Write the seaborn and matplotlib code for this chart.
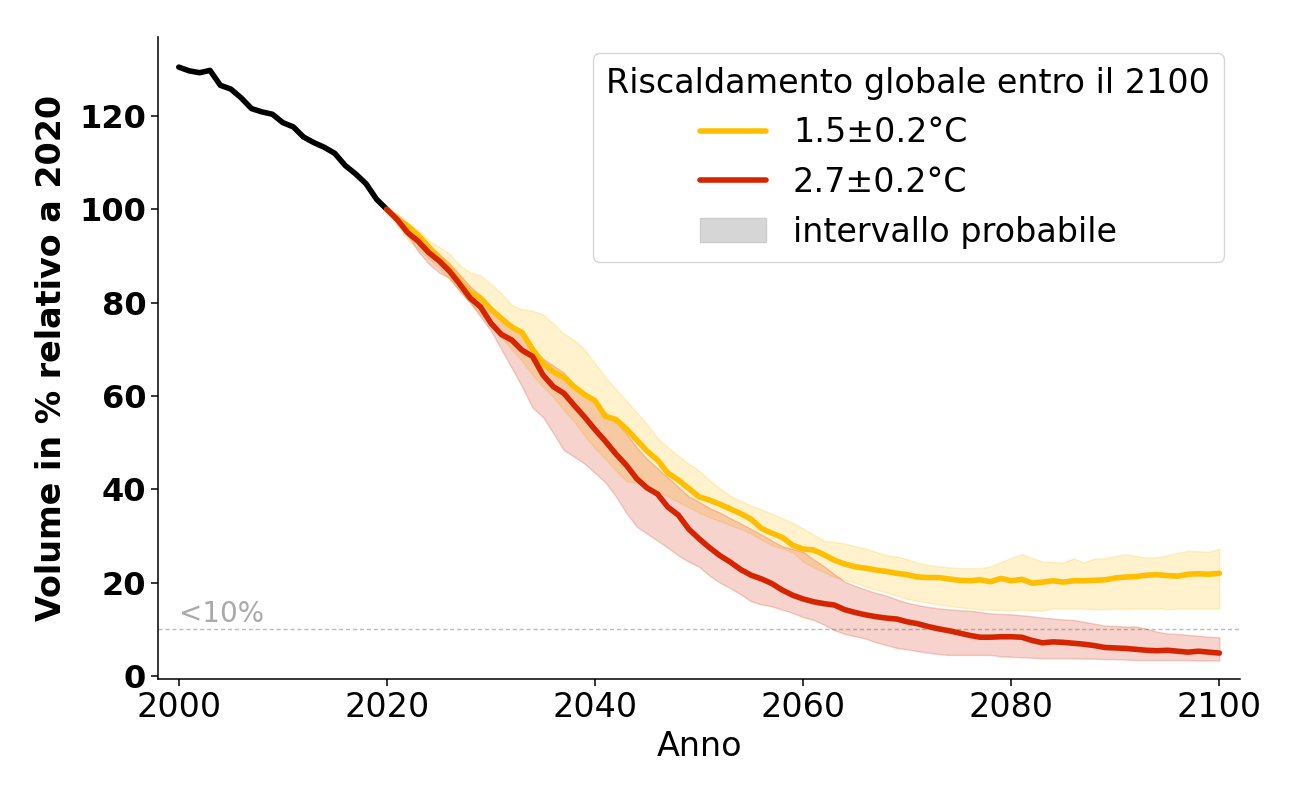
import numpy as np
import pandas as pd
import matplotlib
matplotlib.use("Agg")
import matplotlib.pyplot as plt
import seaborn as sns
from matplotlib.lines import Line2D
from matplotlib.patches import Patch

# ---------------- data ----------------
hist_years = list(range(2000, 2021))
hist_vol = [130.5, 129.7, 129.3, 129.8, 126.6, 125.8, 123.9, 121.6, 120.9, 120.4,
            118.6, 117.7, 115.5, 114.3, 113.3, 112.0, 109.4, 107.6, 105.5, 102.2, 100.0]

proj_years = list(range(2020, 2101))

low_mid = [100, 98, 96.5, 94.5, 92, 89.5, 87.3, 84.5, 82.2, 81, 78.6, 76.6, 74.8, 73.6, 70, 67,
           65.2, 64, 62, 60.3, 59, 55.6, 55, 53, 50.6, 48.2, 46.3, 43.5, 42, 40.2, 38.4,
           37.7, 36.8, 35.8, 34.8, 33.6, 31.6, 30.6, 29.7, 28, 27.2, 27, 26, 24.8, 24, 23.4,
           23.1, 22.7, 22.4, 22, 21.7, 21.2, 21.1, 21.1, 20.8, 20.5, 20.4, 20.6, 20.2, 20.9,
           20.4, 20.7, 19.9, 20.1, 20.4, 20.1, 20.4, 20.4, 20.5, 20.6, 21, 21.2, 21.3, 21.6,
           21.7, 21.5, 21.4, 21.8, 21.9, 21.8, 22]
low_up = [100, 98.5, 97, 95.5, 93.5, 92, 90.5, 88, 86.5, 85.8, 84, 82, 79.5, 78.6, 78.3, 77.5,
          75.5, 73.4, 72, 70, 67, 64, 61.5, 59, 56.5, 54, 51, 49, 47.2, 45.5, 44,
          42, 40.2, 38.6, 37.5, 36.5, 35.7, 34.8, 33.8, 32.8, 31.6, 30.3, 29, 28.7, 28.4, 27.8,
          27.3, 26.6, 25.9, 25.6, 25, 24.3, 23.8, 23.5, 23.3, 23.1, 23.1, 23.1, 23.5, 24.4,
          25.3, 26.1, 25.3, 24.5, 24.4, 24.3, 25.2, 24.3, 25.2, 25.2, 25.7, 26.1, 25.7, 25.4,
          25.4, 25.9, 26.4, 26.8, 26.7, 26.6, 27.3]
low_lo = [100, 96.5, 93.5, 91.5, 89.5, 87.5, 85, 82.5, 80, 77.5, 75, 72.5, 70, 67.5, 64.5, 62,
          59.8, 57, 54.5, 51.5, 48.8, 46.5, 44, 41.8, 41.3, 40.5, 39.5, 38.5, 37.3, 36.2, 35,
          34, 33.2, 32.3, 31.5, 30.5, 29.2, 28, 27.3, 26.5, 24.5, 23.3, 22.2, 21.2, 20.6, 20,
          19.2, 18.5, 17.9, 17.2, 16.5, 16.1, 15.7, 15.3, 15, 14.7, 14.5, 14.3, 14.2, 14.1,
          14.1, 14.2, 14, 14, 14.5, 14.5, 14.5, 14.4, 14.3, 14.3, 14.4, 14.4, 14.5, 14.5,
          14.5, 14.3, 14.4, 14.5, 14.5, 14.5, 14.5]

high_mid = [100, 97.8, 95, 93.2, 90.8, 89, 86.8, 84, 81, 79.1, 75.6, 73.2, 72, 69.8, 68.5, 64.5,
            62, 60.6, 58, 55.5, 52.8, 50.3, 47.6, 45.2, 42.3, 40.3, 39, 36.2, 34.5, 31.5, 29.4,
            27.5, 25.8, 24.4, 22.8, 21.6, 20.8, 19.8, 18.4, 17.3, 16.5, 15.9, 15.5, 15.2, 14.2,
            13.6, 13.1, 12.7, 12.4, 12.2, 11.6, 11.2, 10.6, 10.1, 9.7, 9.2, 8.7, 8.3, 8.3, 8.4,
            8.4, 8.3, 7.6, 7.1, 7.3, 7.2, 7.0, 6.8, 6.5, 6.1, 6.0, 5.9, 5.7, 5.5, 5.4, 5.5,
            5.3, 5.1, 5.3, 5.1, 4.9]
high_up = [100, 99, 97, 94.5, 92.5, 90.5, 88.5, 86, 83.5, 81.5, 79, 77, 75, 73, 70.5, 68,
           66.5, 65, 62.5, 60.5, 58.5, 56.5, 54.5, 52, 49, 46.5, 44.5, 42.5, 40.5, 38.5, 37.3,
           36, 35, 33.8, 32.7, 31.5, 30.3, 29, 27.8, 27.2, 26.6, 25, 23.5, 21.8, 20.2, 19.3,
           18.5, 17.8, 17.2, 16.4, 15.7, 15.2, 14.8, 14.5, 14.3, 14.1, 14, 13.7, 13.4, 13.3,
           13.2, 13, 12.8, 12.5, 12.3, 12.1, 12, 11.6, 11.2, 10.8, 10.7, 10.6, 10.6, 10.1,
           9.5, 9.1, 9, 8.8, 8.6, 8.4, 8.3]
high_lo = [100, 97.5, 94.5, 91, 88.4, 86.5, 85.3, 82.5, 80, 77, 74, 70, 66, 62, 57.5, 55.5,
           52, 48.4, 47, 45.5, 43.5, 41.5, 38.5, 35, 32, 30.5, 29, 27.5, 25.8, 24.5, 23.4,
           21.5, 20, 18.8, 17.5, 16, 15.3, 14.9, 14.2, 13.5, 12.6, 12, 11, 9.8, 9, 8.5,
           8, 7.2, 6.6, 6, 5.7, 5.3, 5, 4.7, 4.5, 4.5, 4.5, 4.5, 4.5, 4.2, 4.1, 4, 3.9, 3.8,
           3.8, 3.8, 3.8, 3.7, 3.7, 3.6, 3.6, 3.5, 3.4, 3.4, 3.4, 3.4, 3.4, 3.4, 3.3, 3.3, 3.3]

scenario_labels = ["1.5±0.2°C", "2.7±0.2°C"]
colors = ["#FFBF00", "#D42500"]
band_label = "intervallo probabile"
legend_title = "Riscaldamento globale entro il 2100"
threshold = 10
threshold_label = "<10%"

# ---------------- plot ----------------
sns.set_style("ticks")
plt.rcParams["font.family"] = ["DejaVu Sans"]
for k in ["text.color", "axes.labelcolor", "xtick.color", "ytick.color", "axes.edgecolor"]:
    plt.rcParams[k] = "black"

fig = plt.figure(figsize=(13, 8), dpi=100)
ax = fig.add_axes([0.1215, 0.151, 0.8325, 0.803])

df_hist = pd.DataFrame({"Anno": hist_years, "Volume": hist_vol})
df_proj = pd.DataFrame({
    "Anno": proj_years * 2,
    "Volume": low_mid + high_mid,
    "Scenario": [scenario_labels[0]] * len(proj_years) + [scenario_labels[1]] * len(proj_years),
})

ax.axhline(threshold, color="#bbbbbb", lw=1, ls=(0, (3, 2)), zorder=1)
ax.text(2000, threshold + 0.3, threshold_label, color="#aaaaaa", fontsize=20,
        ha="left", va="bottom")

ax.fill_between(proj_years, low_lo, low_up, color=colors[0], alpha=0.2, lw=1, zorder=2)
ax.fill_between(proj_years, high_lo, high_up, color=colors[1], alpha=0.2, lw=1, zorder=2)

sns.lineplot(data=df_hist, x="Anno", y="Volume", color="black", lw=4, ax=ax, zorder=3)
sns.lineplot(data=df_proj, x="Anno", y="Volume", hue="Scenario", palette=colors,
             lw=4, ax=ax, legend=False, zorder=4)

ax.set_xlim(1998, 2102)
ax.set_ylim(-0.7, 137)
ax.set_xticks(range(2000, 2101, 20))
ax.set_yticks(range(0, 121, 20))
ax.tick_params(axis="x", labelsize=24, length=5, width=1.1)
ax.tick_params(axis="y", labelsize=23, length=5, width=1.1)
for lab in ax.get_yticklabels():
    lab.set_fontweight("bold")
ax.set_xlabel("Anno", fontsize=24)
ax.set_ylabel("Volume in % relativo a 2020", fontsize=24, fontweight="bold", labelpad=8)
for s in ["left", "bottom"]:
    ax.spines[s].set_linewidth(1.1)
sns.despine(ax=ax)

handles = [Line2D([], [], color=colors[0], lw=4),
           Line2D([], [], color=colors[1], lw=4),
           Patch(facecolor="#d6d6d6", edgecolor="#cccccc")]
leg = ax.legend(handles, scenario_labels + [band_label], title=legend_title,
                loc="upper right", fontsize=24, title_fontsize=24,
                handlelength=2.0, labelspacing=0.5, frameon=True)

fig.savefig("out.png", dpi=100)
